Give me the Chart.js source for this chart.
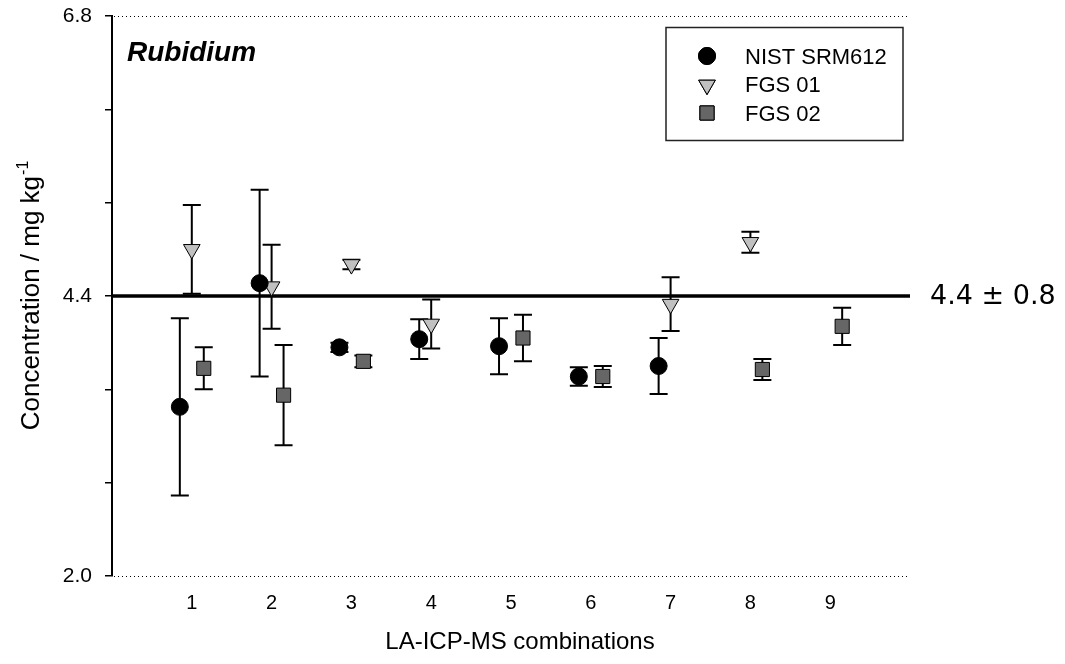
<!DOCTYPE html>
<html>
<head>
<meta charset="utf-8">
<script src="https://cdn.jsdelivr.net/npm/chart.js@4/dist/chart.umd.min.js"></script>
<style>
  html, body { margin: 0; padding: 0; background: #fff; }
  #chart { display: block; }
</style>
</head>
<body>
<canvas id="chart" width="1065" height="664"></canvas>
<script>
const combinations = [1, 2, 3, 4, 5, 6, 7, 8, 9];

const nistValues = [3.45, 4.51, 3.96, 4.03, 3.97, 3.71, 3.80, null, null];
const nistErrors = [0.76, 0.80, 0.04, 0.17, 0.24, 0.08, 0.24, null, null];

const fgs01Values = [4.80, 4.48, 4.67, 4.16, null, null, 4.33, 4.86, null];
const fgs01Errors = [0.38, 0.36, 0.04, 0.21, null, null, 0.23, 0.09, null];

const fgs02Values = [3.78, 3.55, 3.84, null, 4.04, 3.71, null, 3.77, 4.14];
const fgs02Errors = [0.18, 0.43, 0.05, null, 0.20, 0.09, null, 0.09, 0.16];

const referenceValue = 4.4;
const referenceLabel = '4.4 \u00b1 0.8';
const yLabelled = [2.0, 4.4, 6.8];

const FONT = "'Liberation Sans', Arial, Helvetica, sans-serif";

function points(values, errors, offset) {
  const out = [];
  combinations.forEach((c, i) => {
    if (values[i] === null) return;
    out.push({x: c + offset, y: values[i], err: errors[i]});
  });
  return out;
}

const series = [
  {label: 'NIST SRM612', style: 'circle', radius: 8.5, rotation: 0, fill: '#000000',
   data: points(nistValues, nistErrors, -0.15)},
  {label: 'FGS 01', style: 'triangle', radius: 9.6, rotation: 180, fill: '#c0c0c0',
   data: points(fgs01Values, fgs01Errors, 0)},
  {label: 'FGS 02', style: 'rect', radius: 10, rotation: 0, fill: '#666666',
   data: points(fgs02Values, fgs02Errors, 0.15)}
];

const errorBars = {
  id: 'errorBars',
  beforeDatasetsDraw(chart) {
    const {ctx, scales: {x, y}} = chart;
    ctx.save();
    ctx.strokeStyle = '#000';
    ctx.lineWidth = 2;
    chart.data.datasets.forEach(ds => {
      ds.data.forEach(p => {
        if (p.err == null) return;
        const px = x.getPixelForValue(p.x);
        const top = y.getPixelForValue(p.y + p.err);
        const bot = y.getPixelForValue(p.y - p.err);
        ctx.beginPath();
        ctx.moveTo(px, top); ctx.lineTo(px, bot);
        ctx.moveTo(px - 9, top); ctx.lineTo(px + 9, top);
        ctx.moveTo(px - 9, bot); ctx.lineTo(px + 9, bot);
        ctx.stroke();
      });
    });
    ctx.restore();
  }
};

const decorations = {
  id: 'decorations',
  beforeDatasetsDraw(chart) {
    const {ctx, chartArea, scales: {y}} = chart;
    ctx.save();
    ctx.strokeStyle = '#000';
    ctx.lineWidth = 1;
    ctx.setLineDash([1, 3]);
    [2.0, 6.8].forEach(v => {
      const py = Math.round(y.getPixelForValue(v)) + 0.5;
      ctx.beginPath();
      ctx.moveTo(chartArea.left + 2, py);
      ctx.lineTo(chartArea.right - 2, py);
      ctx.stroke();
    });
    ctx.restore();
  },
  afterDraw(chart) {
    const {ctx, scales: {y}} = chart;
    ctx.save();
    ctx.fillStyle = '#000';

    // reference label
    ctx.font = "27px 'DejaVu Sans', Verdana, sans-serif";
    ctx.textBaseline = 'middle';
    ctx.textAlign = 'left';
    ctx.fillText(referenceLabel, 930, y.getPixelForValue(referenceValue) + 1);

    // element name
    ctx.font = 'italic bold 28px ' + FONT;
    ctx.textBaseline = 'alphabetic';
    ctx.fillText('Rubidium', 127, 61);

    // x axis title
    ctx.font = '24px ' + FONT;
    ctx.textAlign = 'center';
    ctx.fillText('LA-ICP-MS combinations', 520, 649);

    // y axis title with superscript
    ctx.save();
    ctx.translate(39, 296);
    ctx.rotate(-Math.PI / 2);
    const main = 'Concentration / mg kg';
    const sup = '-1';
    ctx.font = '26px ' + FONT;
    const wMain = ctx.measureText(main).width;
    ctx.font = '16px ' + FONT;
    const wSup = ctx.measureText(sup).width;
    const start = -(wMain + wSup) / 2;
    ctx.textAlign = 'left';
    ctx.font = '26px ' + FONT;
    ctx.fillText(main, start, 0);
    ctx.font = '16px ' + FONT;
    ctx.fillText(sup, start + wMain + 1, -11);
    ctx.restore();

    // legend
    ctx.strokeStyle = '#222';
    ctx.lineWidth = 1.5;
    ctx.strokeRect(666, 27.5, 237, 113);
    const rows = [56, 85, 113];
    const baselines = [64, 92, 121];
    series.forEach((s, i) => {
      ctx.fillStyle = s.fill;
      ctx.strokeStyle = '#000';
      ctx.lineWidth = 1;
      Chart.helpers.drawPoint(ctx, {pointStyle: s.style, radius: s.radius, rotation: s.rotation, borderWidth: 1}, 707, rows[i]);
      ctx.fill();
      ctx.stroke();
      ctx.fillStyle = '#000';
      ctx.font = '22px ' + FONT;
      ctx.textAlign = 'left';
      ctx.textBaseline = 'alphabetic';
      ctx.fillText(s.label, 745, baselines[i]);
    });
    ctx.restore();
  }
};

const datasets = series.map(s => ({
  type: 'scatter',
  label: s.label,
  data: s.data,
  pointStyle: s.style,
  pointRadius: s.radius,
  pointHoverRadius: s.radius,
  pointRotation: s.rotation,
  backgroundColor: s.fill,
  borderColor: '#000',
  borderWidth: 1,
  order: 0
}));

datasets.push({
  type: 'line',
  label: 'reference',
  data: [{x: 0, y: referenceValue}, {x: 10, y: referenceValue}],
  borderColor: '#000',
  borderWidth: 3.5,
  pointRadius: 0,
  order: 10
});

new Chart(document.getElementById('chart'), {
  type: 'scatter',
  data: {datasets},
  plugins: [errorBars, decorations],
  options: {
    responsive: false,
    animation: false,
    layout: {padding: {left: 0, top: 16, right: 155, bottom: 0}},
    plugins: {legend: {display: false}, tooltip: {enabled: false}},
    scales: {
      x: {
        type: 'linear',
        min: 0,
        max: 10,
        grid: {display: false},
        border: {display: false},
        ticks: {
          stepSize: 1,
          padding: 7,
          color: '#000',
          font: {family: FONT, size: 20},
          callback: v => (v >= 1 && v <= 9) ? String(v) : ''
        },
        afterFit: s => { s.height = 88; s.paddingLeft = 0; s.paddingRight = 0; }
      },
      y: {
        type: 'linear',
        min: 2.0,
        max: 6.8,
        grid: {display: true, drawOnChartArea: false, drawTicks: true, tickLength: 7, color: '#000', lineWidth: 1.5},
        border: {display: true, color: '#000', width: 2},
        ticks: {
          stepSize: 0.8,
          padding: 13,
          color: '#000',
          font: {family: FONT, size: 21},
          callback: v => yLabelled.some(l => Math.abs(l - v) < 1e-6) ? v.toFixed(1) : ''
        },
        afterFit: s => { s.width = 112; s.paddingTop = 0; s.paddingBottom = 0; }
      }
    }
  }
});
</script>
</body>
</html>
